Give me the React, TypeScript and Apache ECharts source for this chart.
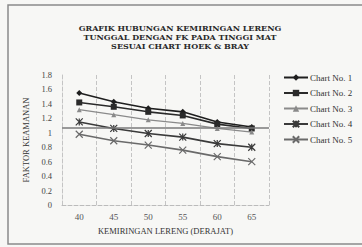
import React, { useEffect, useRef } from "react";
import * as echarts from "echarts";

const titleLines = [
  "GRAFIK HUBUNGAN KEMIRINGAN LERENG",
  "TUNGGAL DENGAN FK PADA TINGGI MAT",
  "SESUAI CHART HOEK & BRAY",
];
const categories = ["40", "45", "50", "55", "60", "65"];
const seriesNames = ["Chart No. 1", "Chart No. 2", "Chart No. 3", "Chart No. 4", "Chart No. 5"];
const chart1 = [1.55, 1.43, 1.34, 1.29, 1.15, 1.08];
const chart2 = [1.42, 1.36, 1.29, 1.24, 1.12, 1.06];
const chart3 = [1.32, 1.25, 1.18, 1.13, 1.06, 1.01];
const chart4 = [1.15, 1.06, 0.99, 0.94, 0.85, 0.8];
const chart5 = [0.98, 0.89, 0.83, 0.76, 0.67, 0.6];
const referenceFK = 1.07;
const yTicks = { min: 0, max: 1.8, interval: 0.2 };

export default function App() {
  const ref = useRef<HTMLDivElement>(null);
  useEffect(() => {
    if (!ref.current) return;
    const chart = echarts.init(ref.current, undefined, { renderer: "svg" });
    const serif = "Liberation Serif";
    const colors = ["#1e1e1e", "#2a2a2a", "#8a8a8a", "#3a3a3a", "#6a6a6a"];
    const symbols = [
      "diamond",
      "rect",
      "triangle",
      "path://M0,0L10,10M10,0L0,10M5,0L5,10",
      "path://M0,0L10,10M10,0L0,10",
    ];
    const sizes = [6, 6, 5, 7, 7];
    const datas = [chart1, chart2, chart3, chart4, chart5];
    const series: any[] = datas.map((d, i) => {
      const isX = i >= 3;
      return {
        name: seriesNames[i],
        type: "line",
        data: d,
        symbol: symbols[i],
        symbolSize: sizes[i],
        showSymbol: true,
        lineStyle: { color: colors[i], width: i === 2 ? 1.3 : 1.6 },
        itemStyle: isX
          ? { color: "rgba(0,0,0,0)", borderColor: colors[i], borderWidth: 1.2 }
          : { color: colors[i], borderColor: colors[i], borderWidth: 0 },
        z: 3,
      };
    });
    series[0].markLine = {
      silent: true,
      symbol: "none",
      label: { show: false },
      lineStyle: { color: "#7a7a7a", width: 1.5, type: "solid" },
      data: [{ yAxis: referenceFK }],
    };
    chart.setOption({
      animation: false,
      backgroundColor: "#f7f7f5",
      graphic: [
        {
          type: "rect",
          shape: { x: 8, y: 5, width: 362, height: 239 },
          style: { fill: "none", stroke: "#8a8a8a", lineWidth: 1.5 },
          silent: true,
        },
        ...titleLines.map((t, i) => ({
          type: "text",
          x: 180,
          y: 28 + i * 9,
          style: {
            text: t,
            fill: "#2a2a2a",
            font: "bold 8px 'DejaVu Serif'",
            textAlign: "center",
            textVerticalAlign: "middle",
          },
        })),
      ],
      legend: {
        orient: "vertical",
        left: 278,
        top: 68,
        itemWidth: 24,
        itemHeight: 8,
        itemGap: 6.5,
        data: seriesNames,
        textStyle: { fontFamily: serif, fontSize: 9, color: "#333", padding: [0, 0, 0, -3] },
      },
      grid: { left: 62, right: 93, top: 75, bottom: 42 },
      xAxis: {
        type: "category",
        data: categories,
        boundaryGap: true,
        name: "KEMIRINGAN LERENG (DERAJAT)",
        nameLocation: "middle",
        nameGap: 21,
        nameTextStyle: { fontFamily: serif, fontSize: 8.5, color: "#333" },
        axisLine: { show: true, lineStyle: { color: "#bbb", type: "dashed", width: 1 } },
        axisTick: { show: false },
        axisLabel: { fontFamily: serif, fontSize: 9, color: "#555", margin: 7 },
        splitLine: { show: true, interval: 0, lineStyle: { color: "#c4c4c4", type: "dashed", width: 1 } },
      },
      yAxis: {
        type: "value",
        min: yTicks.min,
        max: yTicks.max,
        interval: yTicks.interval,
        name: "FAKTOR KEAMANAN",
        nameLocation: "middle",
        nameGap: 28,
        nameTextStyle: { fontFamily: serif, fontSize: 8.5, color: "#333" },
        axisLine: { show: true, lineStyle: { color: "#c4c4c4", type: "dashed", width: 1 } },
        axisTick: { show: false },
        axisLabel: {
          fontFamily: serif,
          fontSize: 8.5,
          color: "#444",
          margin: 10,
          formatter: (v: number) => String(Math.round(v * 10) / 10),
        },
        splitLine: { show: false },
      },
      series,
    });
    return () => chart.dispose();
  }, []);
  return (
    <div
      ref={ref}
      style={{ position: "fixed", left: 0, top: 0, width: 362, height: 247 }}
    />
  );
}
